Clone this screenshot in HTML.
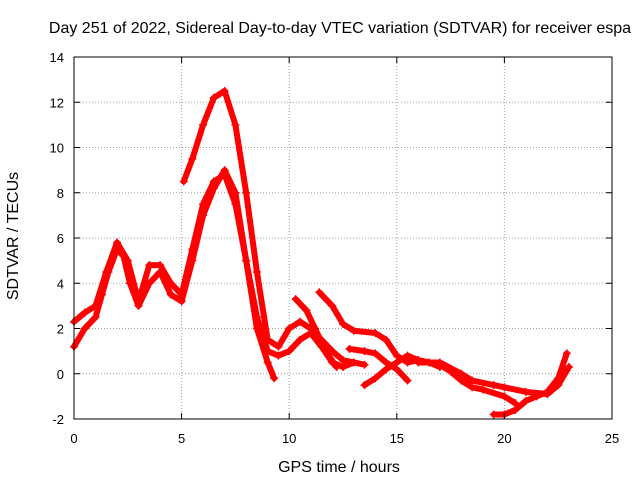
<!DOCTYPE html>
<html><head><meta charset="utf-8"><style>
body{margin:0;background:#fff;}
svg{display:block;font-family:"Liberation Sans",sans-serif;}
</style></head><body>
<svg id="chart" width="640" height="480">
<text x="340" y="33" font-size="16" text-anchor="middle">Day 251 of 2022, Sidereal Day-to-day VTEC variation (SDTVAR) for receiver espa</text>
<text x="339" y="472" font-size="16" text-anchor="middle">GPS time / hours</text>
<text transform="translate(18,236) rotate(-90)" font-size="16" text-anchor="middle">SDTVAR / TECUs</text>
<g id="grid"></g><g id="series"></g><g id="axes"></g>
</svg>
<script>
const xTicks=[0,5,10,15,20,25];
const yTicks=[-2,0,2,4,6,8,10,12,14];
const trackA=[[0,1.2],[0.5,2],[1,2.5],[1.3,3.5],[1.6,4.5],[2,5.5],[2.3,5.2],[2.6,4],[3,3],[3.5,4],[4,4.5],[4.5,3.5],[5,3.2],[5.5,5],[6,7],[6.5,8.2],[7,9],[7.5,8],[8,5],[8.5,2],[9,0.5],[9.3,-0.2]];
const trackB=[[0,2.3],[0.5,2.7],[1,3],[1.5,4.5],[2,5.8],[2.5,5],[3,3.2],[3.5,4.8],[4,4.8],[4.5,4],[5,3.5],[5.5,5.5],[6,7.5],[6.5,8.5],[7,8.8],[7.5,7.5],[8,5],[8.5,2.5],[9,1],[9.5,0.8],[10,1],[10.5,1.5],[11,1.8],[11.5,1.2],[12,0.5],[12.5,0.3],[13,0.5],[13.5,0.4]];
const trackC=[[5.1,8.5],[5.5,9.5],[6,11],[6.5,12.2],[7,12.5],[7.5,11],[8,8],[8.5,4.5],[9,1.5],[9.5,1.2],[10,2],[10.5,2.3],[11,2.0],[11.5,1.5],[12,1],[12.5,0.6],[13,0.5]];
const trackD=[[10.3,3.3],[10.8,2.8],[11.2,2],[11.7,1],[12.2,0.3]];
const trackE=[[11.4,3.6],[12,3],[12.5,2.2],[13,1.9],[14,1.8],[14.5,1.5],[15,0.8],[15.5,0.5],[16,0.6],[16.5,0.5],[17,0.3]];
const trackF=[[12.8,1.1],[13.5,1.0],[14,0.9],[14.5,0.5],[15,0.2],[15.5,-0.3]];
const trackG=[[13.5,-0.5],[14,-0.2],[14.5,0.2],[15,0.5],[15.5,0.8],[16,0.6],[17,0.4],[17.5,0.1],[18,-0.3],[18.5,-0.6],[19,-0.7],[20,-1.0],[20.5,-1.3]];
const trackH=[[16,0.5],[17,0.5],[18,0],[18.5,-0.3],[19.5,-0.5],[20,-0.6],[21,-0.8],[22,-0.9],[22.5,-0.5],[23,0.3]];
const trackI=[[19.5,-1.8],[20,-1.8],[20.5,-1.6],[21,-1.2],[21.5,-1.0],[22,-0.8],[22.5,-0.2],[22.9,0.9]];
const tracks=[trackA,trackB,trackC,trackD,trackE,trackF,trackG,trackH,trackI];
const L=74,R=612,T=57,B=419;
const sx=v=>L+(v-0)/25*(R-L);
const sy=v=>B-(v+2)/16*(B-T);
const NS="http://www.w3.org/2000/svg";
function mk(tag,attrs,parent){const e=document.createElementNS(NS,tag);for(const k in attrs)e.setAttribute(k,attrs[k]);parent.appendChild(e);return e;}
const grid=document.getElementById('grid'),axes=document.getElementById('axes'),ser=document.getElementById('series');
xTicks.forEach(t=>{
 if(t>0&&t<25){const g=mk('line',{x1:sx(t),x2:sx(t),y1:T,y2:B,stroke:'#a0a0a0','stroke-dasharray':'1,2'},grid);
 
 }
 const tx=mk('text',{x:sx(t),y:B+24,'font-size':13,'text-anchor':'middle'},axes);tx.textContent=t;
 
 
 mk('line',{x1:sx(t),x2:sx(t),y1:B,y2:B-6,stroke:'#000'},axes);
 mk('line',{x1:sx(t),x2:sx(t),y1:T,y2:T+6,stroke:'#000'},axes);
});
yTicks.forEach(t=>{
 if(t>-2&&t<14){const g=mk('line',{x1:L,x2:R,y1:sy(t),y2:sy(t),stroke:'#a0a0a0','stroke-dasharray':'1,2'},grid);
 
 }
 const tx=mk('text',{x:L-10,y:sy(t)+5,'font-size':13,'text-anchor':'end'},axes);tx.textContent=t;
 
 
 mk('line',{x1:L,x2:L+6,y1:sy(t),y2:sy(t),stroke:'#000'},axes);
 mk('line',{x1:R,x2:R-6,y1:sy(t),y2:sy(t),stroke:'#000'},axes);
});
const frame=mk('rect',{x:L,y:T,width:R-L,height:B-T,fill:'none',stroke:'#000'},axes);


tracks.forEach((tr,i)=>{
 const p=mk('polyline',{points:tr.map(d=>sx(d[0])+','+sy(d[1])).join(' '),fill:'none',stroke:'#f00','stroke-width':6,'stroke-linejoin':'round','stroke-linecap':'round'},ser);
 
 
 tr.forEach(d=>{
  const m=mk('path',{d:`M${sx(d[0])-4},${sy(d[1])}h8M${sx(d[0])},${sy(d[1])-4}v8`,stroke:'#f00','stroke-width':1.5},ser);
  
  
 });
});
</script>
</body></html>
